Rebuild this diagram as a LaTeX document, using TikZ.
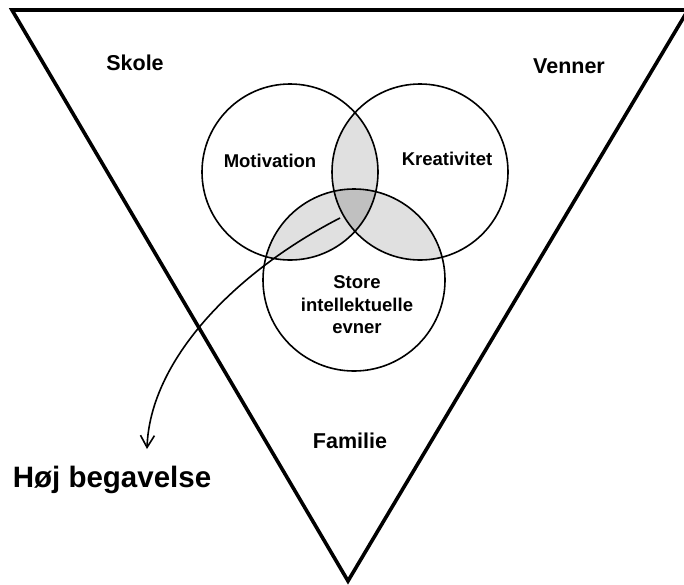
\documentclass[tikz,border=0pt]{standalone}
\usepackage{fontspec}
\setmainfont{Liberation Sans}
\usetikzlibrary{arrows.meta}
\definecolor{lens}{RGB}{224,224,224}
\definecolor{core}{RGB}{192,192,192}
\begin{document}
\begin{tikzpicture}[x=1pt,y=-1pt,
  lbl/.style={font=\bfseries\fontsize{18.5}{22.5}\selectfont, inner sep=0pt, align=center},
  outlbl/.style={font=\bfseries\fontsize{21.5}{26}\selectfont, inner sep=0pt, anchor=base},
  biglbl/.style={font=\bfseries\fontsize{29.5}{34}\selectfont, inner sep=0pt, anchor=base},
  ring/.style={draw=black, line width=1.6pt},
  frame/.style={draw=black, line width=3.6pt, line join=miter},
  pointer/.style={draw=black, line width=1.6pt, -{Straight Barb[length=12pt,width=14pt,line width=1.6pt]}}]
\useasboundingbox (0,0) rectangle (684,584);
% triangle
\coordinate (tl) at (12,10);
\coordinate (tr) at (688,10);
\coordinate (ap) at (348,581);
\draw[frame] (tl) -- (tr) -- (ap) -- cycle;
% circle centres
\coordinate (cm) at (290,172);
\coordinate (ck) at (420,172);
\coordinate (cs) at (354,280);
% lens fills
\begin{scope}
  \clip (cm) circle[radius=88];
  \fill[lens] (ck) circle[radius=88];
  \fill[lens] (cs) circle[radius=91];
\end{scope}
\begin{scope}
  \clip (ck) circle[radius=88];
  \fill[lens] (cs) circle[radius=91];
\end{scope}
\begin{scope}
  \clip (cm) circle[radius=88];
  \clip (ck) circle[radius=88];
  \fill[core] (cs) circle[radius=91];
\end{scope}
% circles
\draw[ring] (cm) circle[radius=88];
\draw[ring] (ck) circle[radius=88];
\draw[ring] (cs) circle[radius=91];
% labels
\node[outlbl] (skole) at (135,70) {Skole};
\node[outlbl] (venner) at (569,73) {Venner};
\node[lbl, anchor=base] (mot) at (270,167) {Motivation};
\node[lbl, anchor=base] (kre) at (447,165) {Kreativitet};
\node[lbl] (sie) at (357,305) {Store\\intellektuelle\\evner};
\node[outlbl] (fam) at (350,448) {Familie};
\node[biglbl] (hoj) at (112,487) {Høj begavelse};
% arrow
\coordinate (astart) at (340,218);
\coordinate (aend) at (147,449);
\draw[pointer] (astart) .. controls (235,272) and (150,360) .. (aend);
\end{tikzpicture}
\end{document}
